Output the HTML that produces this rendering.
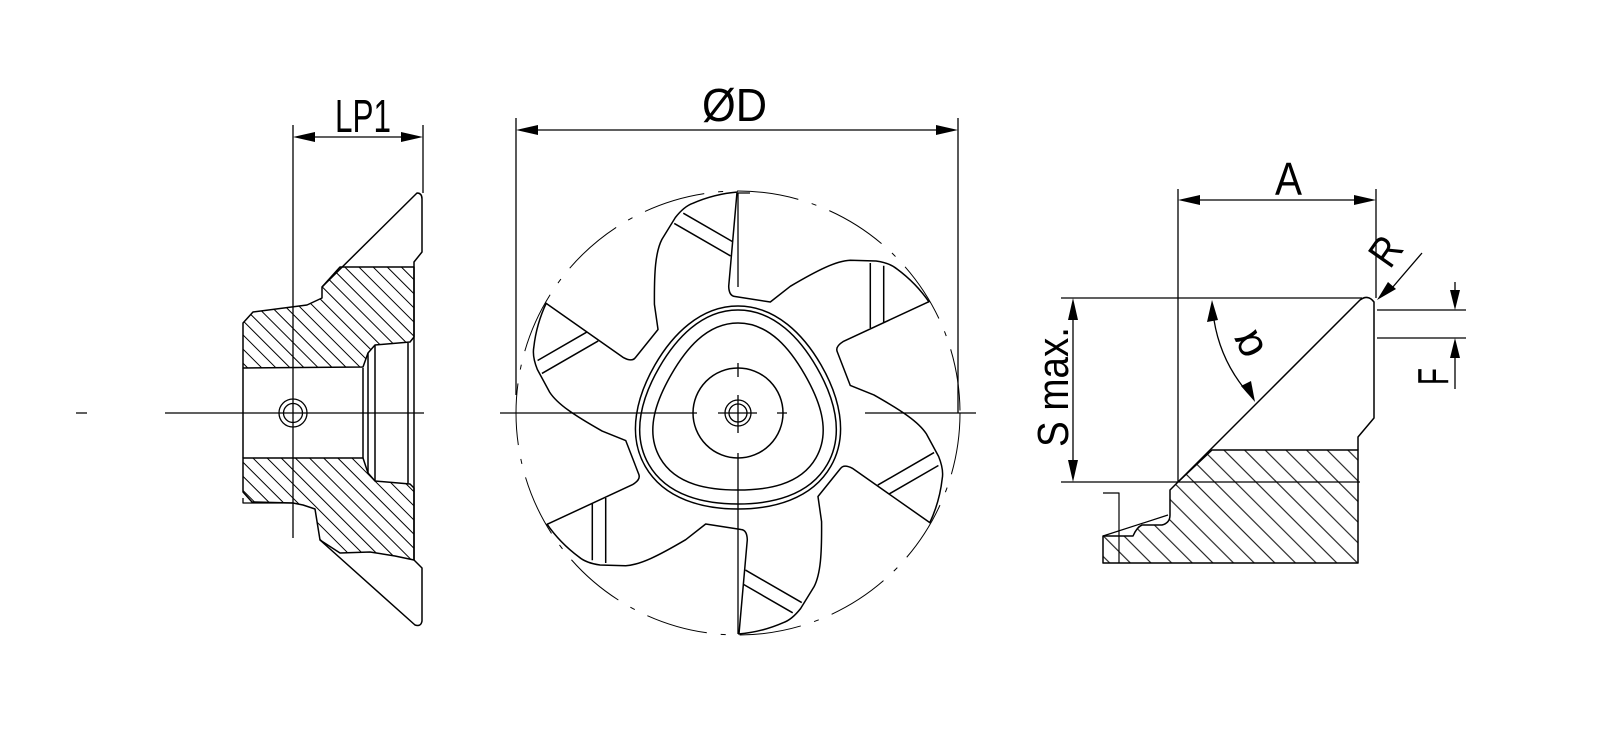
<!DOCTYPE html>
<html><head><meta charset="utf-8"><style>html,body{margin:0;padding:0;background:#fff}svg{display:block}text{font-family:"Liberation Sans",sans-serif;fill:#000}</style></head><body>
<svg width="1600" height="734" viewBox="0 0 1600 734" xmlns="http://www.w3.org/2000/svg">
<defs>
<pattern id="hl" width="10" height="10" patternUnits="userSpaceOnUse" patternTransform="rotate(-45)"><line x1="5" y1="0" x2="5" y2="10" stroke="#000" stroke-width="1"/></pattern>
<pattern id="hr" width="14.6" height="14.6" patternUnits="userSpaceOnUse" patternTransform="rotate(-45)"><line x1="7" y1="0" x2="7" y2="14.6" stroke="#000" stroke-width="1"/></pattern>
</defs>
<g fill="none" stroke="#000" stroke-width="1.5" stroke-linejoin="round">

<!-- LEFT VIEW -->
<path d="M243,323 L253,312 L307,305 L322,298 L322,287 L340,267 L414,267 L414,337 L410,342 L375,345 L368,353 L363,367 L243,368 Z" fill="url(#hl)"/>
<path d="M243,458 L363,458 L368,473 L375,481 L410,484 L414,488 L414,560 L395,556 L370,552 L340,553 L320,540 L315,509 L303,505 L293,503 L252,502 L243,492 Z" fill="url(#hl)"/>
<path d="M322,287 L417,193 Q422,193 422,199 L422,252 L414,262 L414,560 L422,568 L422,621 Q421,627 415,625 L320,540"/>
<path d="M243,368 L243,458 M363,368 L363,458 M368,353 L368,473 M375,345 L375,481 M408,343 L408,483"/>
<path d="M243,498 L243,503 L293,503" stroke-width="1.3"/>
<circle cx="293" cy="413" r="14" stroke-width="1.3"/>
<circle cx="293" cy="413" r="9.5" stroke-width="1.3"/>
<path d="M76,413 L87,413 M165,413 L424,413 M293,125 L293,538" stroke-width="1.3"/>
<path d="M423,125 L423,193" stroke-width="1.3"/>
<path d="M315,137 L401,137" stroke-width="1.3"/>

<!-- MAIN VIEW -->
<g transform="translate(738,413)">
<circle r="222" stroke-width="1" stroke-dasharray="62 14 5 14"/>
<g id="tooth">
<path d="M-1,-220.7 L-9.3,-126.7 Q-9,-117 -3,-116.5 L32.3,-111 L52.3,-126.7 C80,-143 98,-152 112.3,-152.7 L138,-152 Q152,-150 159,-144 Q178,-130 191.3,-110.7"/>
<path d="M132.3,-150 L132.3,-85 M145.7,-147.3 L145.7,-90.7"/>
</g>
<use href="#tooth" transform="rotate(60)"/>
<use href="#tooth" transform="rotate(120)"/>
<use href="#tooth" transform="rotate(180)"/>
<use href="#tooth" transform="rotate(240)"/>
<use href="#tooth" transform="rotate(300)"/>
<path d="M0,-107 C38.2,-107 66,-77.7 83.1,-48 C100.2,-18.3 111.8,20.4 92.7,53.5 C73.6,86.6 34.3,96 0,96 C-34.3,96 -73.6,86.6 -92.7,53.5 C-111.8,20.4 -100.2,-18.3 -83.1,-48 C-66,-77.7 -38.2,-107 0,-107 Z"/>
<path d="M0,-103 C36.8,-103 62.6,-73.6 78.8,-45.5 C95.1,-17.4 107.6,19.6 89.2,51.5 C70.8,83.4 32.5,91 0,91 C-32.5,91 -70.8,83.4 -89.2,51.5 C-107.6,19.6 -95.1,-17.4 -78.8,-45.5 C-62.6,-73.6 -36.8,-103 0,-103 Z"/>
<path d="M0,-90 C32.1,-90 53,-62.3 66.7,-38.5 C80.4,-14.7 94,17.2 77.9,45 C61.9,72.8 27.5,77 0,77 C-27.5,77 -61.9,72.8 -77.9,45 C-94,17.2 -80.4,-14.7 -66.7,-38.5 C-53,-62.3 -32.1,-90 0,-90 Z"/>
<circle r="45"/>
<circle r="13" stroke-width="1.3"/>
<circle r="9" stroke-width="1.3"/>
</g>
<path d="M500,413 L697,413 M718,413 L757,413 M777,413 L787,413 M865,413 L976,413" stroke-width="1.3"/>
<path d="M738,193 L738,287 M738,363 L738,377 M738,395 L738,433 M738,453 L738,634 M738,193 L750,193" stroke-width="1.3"/>
<path d="M516,118 L516,395 M958,118 L958,413" stroke-width="1.3"/>
<path d="M538,130 L936,130" stroke-width="1.3"/>

<!-- RIGHT VIEW -->
<path d="M1212,450 L1358,450 L1358,563 L1103,563 L1103,536 L1133,536 Q1137,527 1142,525 L1162,525 Q1170,523 1170,515 L1170,490 L1178,482 Z" fill="url(#hr)"/>
<path d="M1178,482 L1360,300 Q1368,294 1374,302 L1374,418 L1358,437 L1358,450"/>
<path d="M1061,298 L1362,298 M1061,482 L1360,482" stroke-width="1.3"/>
<path d="M1103,536 L1168,515 M1103,493 L1119,493 L1119,563" stroke-width="1.2"/>
<path d="M1178,189 L1178,482 M1376,189 L1376,298" stroke-width="1.3"/>
<path d="M1200,200 L1354,200 M1073,320 L1073,460" stroke-width="1.3"/>
<path d="M1377,310 L1466,310 M1377,338 L1466,338 M1455,282 L1455,290 M1455,358 L1455,389" stroke-width="1.3"/>
<path d="M1422,253 L1392,288" stroke-width="1.3"/>
<path d="M1214,320 A148,148 0 0 0 1248,393" stroke-width="1.3"/>
</g>
<g fill="#000">
<path d="M293,137 L315,132 L315,142 Z"/><path d="M423,137 L401,132 L401,142 Z"/>
<path d="M516,130 L538,125 L538,135 Z"/><path d="M958,130 L936,125 L936,135 Z"/>
<path d="M1178,200 L1200,195 L1200,205 Z"/><path d="M1376,200 L1354,195 L1354,205 Z"/>
<path d="M1073,298 L1068,320 L1078,320 Z"/><path d="M1073,482 L1068,460 L1078,460 Z"/>
<path d="M1455,310 L1450,290 L1460,290 Z"/><path d="M1455,338 L1450,358 L1460,358 Z"/>
<path d="M1377,300 L1388,282 L1396,289 Z"/>
<path d="M1212,300 L1207,322 L1218,320 Z"/>
<path d="M1255,402 L1241,386 L1251,381 Z"/>
</g>
<text x="335" y="132" font-size="46" textLength="56" lengthAdjust="spacingAndGlyphs">LP1</text>
<text x="702" y="121" font-size="46" textLength="65" lengthAdjust="spacingAndGlyphs">ØD</text>
<text x="1275" y="195" font-size="46" textLength="27" lengthAdjust="spacingAndGlyphs">A</text>
<text transform="translate(1068,447) rotate(-90)" font-size="44" textLength="120" lengthAdjust="spacingAndGlyphs">S max.</text>
<text transform="translate(1448,385) rotate(-90)" font-size="44" textLength="17" lengthAdjust="spacingAndGlyphs">F</text>
<text transform="translate(1390,270) rotate(-55)" font-size="42" textLength="26" lengthAdjust="spacingAndGlyphs">R</text>
<text transform="translate(1247,345) rotate(-115)" font-size="44" text-anchor="middle" dominant-baseline="central">α</text>
</svg>
</body></html>
